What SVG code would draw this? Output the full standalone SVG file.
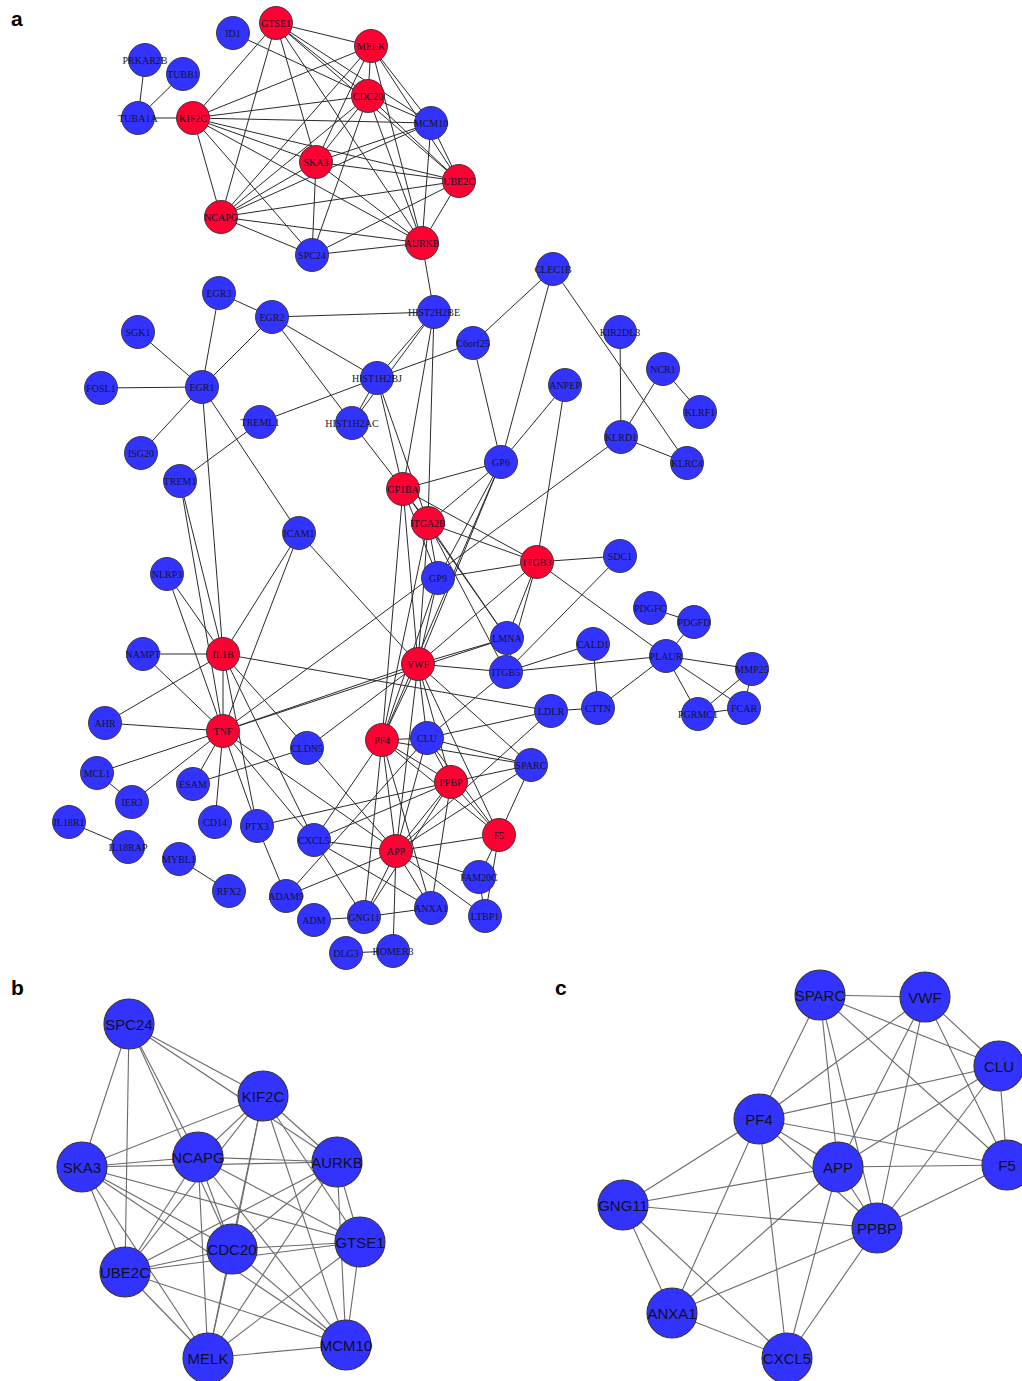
<svg xmlns="http://www.w3.org/2000/svg" width="1022" height="1381" viewBox="0 0 1022 1381">
<style>
.ea line{stroke:#2a2a2a;stroke-width:1}
.eb line{stroke:#6a6a6a;stroke-width:1.1}
.na circle{stroke:#333;stroke-width:0.9}
.nb circle{stroke:#333;stroke-width:1.1;fill:#3333ff}
.R circle{fill:#ff0033}
.B circle{fill:#3333ff}
.na text{font-family:"Liberation Serif",serif;font-size:10px;fill:#141428;text-anchor:middle}
.nb text{font-family:"Liberation Sans",Arial,sans-serif;font-size:15px;fill:#101020;text-anchor:middle}
.pl{font-family:"Liberation Sans",Arial,sans-serif;font-size:21px;font-weight:bold;fill:#000}
</style>
<rect width="1022" height="1381" fill="#fff"/>
<text class="pl" x="11" y="26">a</text>
<text class="pl" x="11" y="995">b</text>
<text class="pl" x="555" y="995">c</text>

<g id="edges-a" class="ea">
<line x1="276" y1="23" x2="371" y2="46"/><line x1="276" y1="23" x2="193" y2="118"/><line x1="276" y1="23" x2="221" y2="217"/><line x1="276" y1="23" x2="316" y2="162"/><line x1="276" y1="23" x2="368" y2="96"/><line x1="276" y1="23" x2="459" y2="181"/><line x1="276" y1="23" x2="422" y2="243"/><line x1="276" y1="23" x2="431" y2="123"/>
<line x1="371" y1="46" x2="193" y2="118"/><line x1="371" y1="46" x2="368" y2="96"/><line x1="371" y1="46" x2="431" y2="123"/><line x1="371" y1="46" x2="459" y2="181"/><line x1="371" y1="46" x2="316" y2="162"/><line x1="371" y1="46" x2="221" y2="217"/><line x1="371" y1="46" x2="422" y2="243"/>
<line x1="368" y1="96" x2="193" y2="118"/><line x1="368" y1="96" x2="221" y2="217"/><line x1="368" y1="96" x2="316" y2="162"/><line x1="368" y1="96" x2="312" y2="255"/><line x1="368" y1="96" x2="422" y2="243"/><line x1="368" y1="96" x2="459" y2="181"/><line x1="368" y1="96" x2="431" y2="123"/>
<line x1="193" y1="118" x2="431" y2="123"/><line x1="193" y1="118" x2="316" y2="162"/><line x1="193" y1="118" x2="459" y2="181"/><line x1="193" y1="118" x2="422" y2="243"/><line x1="193" y1="118" x2="221" y2="217"/><line x1="193" y1="118" x2="312" y2="255"/>
<line x1="316" y1="162" x2="221" y2="217"/><line x1="316" y1="162" x2="459" y2="181"/><line x1="316" y1="162" x2="422" y2="243"/><line x1="316" y1="162" x2="312" y2="255"/><line x1="316" y1="162" x2="431" y2="123"/>
<line x1="221" y1="217" x2="459" y2="181"/><line x1="221" y1="217" x2="422" y2="243"/><line x1="221" y1="217" x2="312" y2="255"/><line x1="221" y1="217" x2="431" y2="123"/>
<line x1="431" y1="123" x2="459" y2="181"/><line x1="431" y1="123" x2="422" y2="243"/><line x1="459" y1="181" x2="422" y2="243"/><line x1="459" y1="181" x2="312" y2="255"/><line x1="422" y1="243" x2="312" y2="255"/>
<line x1="145" y1="60" x2="138" y2="118"/><line x1="183" y1="74" x2="138" y2="118"/><line x1="138" y1="118" x2="193" y2="118"/><line x1="233" y1="33" x2="368" y2="96"/><line x1="422" y1="243" x2="434" y2="312"/>
<line x1="219" y1="293" x2="272" y2="317"/><line x1="219" y1="293" x2="202" y2="387"/><line x1="272" y1="317" x2="202" y2="387"/><line x1="272" y1="317" x2="434" y2="312"/><line x1="272" y1="317" x2="377" y2="378"/><line x1="272" y1="317" x2="352" y2="423"/>
<line x1="138" y1="332" x2="202" y2="387"/><line x1="101" y1="388" x2="202" y2="387"/><line x1="141" y1="453" x2="202" y2="387"/><line x1="202" y1="387" x2="299" y2="533"/><line x1="202" y1="387" x2="223" y2="654"/>
<line x1="180" y1="481" x2="260" y2="422"/><line x1="260" y1="422" x2="377" y2="378"/><line x1="180" y1="481" x2="223" y2="654"/><line x1="180" y1="481" x2="223" y2="731"/>
<line x1="434" y1="312" x2="377" y2="378"/><line x1="434" y1="312" x2="352" y2="423"/><line x1="377" y1="378" x2="352" y2="423"/><line x1="434" y1="312" x2="403" y2="489"/><line x1="434" y1="312" x2="428" y2="523"/><line x1="377" y1="378" x2="403" y2="489"/><line x1="377" y1="378" x2="428" y2="523"/><line x1="352" y1="423" x2="403" y2="489"/><line x1="473" y1="343" x2="377" y2="378"/>
<line x1="553" y1="269" x2="473" y2="343"/><line x1="553" y1="269" x2="501" y2="462"/><line x1="553" y1="269" x2="687" y2="463"/><line x1="473" y1="343" x2="501" y2="462"/><line x1="565" y1="385" x2="501" y2="462"/><line x1="565" y1="385" x2="537" y2="562"/>
<line x1="620" y1="332" x2="621" y2="437"/><line x1="663" y1="369" x2="621" y2="437"/><line x1="663" y1="369" x2="700" y2="412"/><line x1="621" y1="437" x2="687" y2="463"/><line x1="621" y1="437" x2="223" y2="731"/>
<line x1="501" y1="462" x2="403" y2="489"/><line x1="501" y1="462" x2="428" y2="523"/><line x1="501" y1="462" x2="438" y2="578"/><line x1="501" y1="462" x2="418" y2="664"/><line x1="501" y1="462" x2="382" y2="740"/>
<line x1="403" y1="489" x2="428" y2="523"/><line x1="403" y1="489" x2="537" y2="562"/><line x1="403" y1="489" x2="418" y2="664"/><line x1="403" y1="489" x2="438" y2="578"/><line x1="403" y1="489" x2="382" y2="740"/><line x1="403" y1="489" x2="507" y2="638"/>
<line x1="428" y1="523" x2="537" y2="562"/><line x1="428" y1="523" x2="438" y2="578"/><line x1="428" y1="523" x2="418" y2="664"/><line x1="428" y1="523" x2="507" y2="638"/><line x1="428" y1="523" x2="506" y2="672"/><line x1="428" y1="523" x2="382" y2="740"/>
<line x1="537" y1="562" x2="620" y2="556"/><line x1="537" y1="562" x2="438" y2="578"/><line x1="537" y1="562" x2="507" y2="638"/><line x1="537" y1="562" x2="506" y2="672"/><line x1="537" y1="562" x2="666" y2="656"/><line x1="537" y1="562" x2="418" y2="664"/>
<line x1="438" y1="578" x2="418" y2="664"/><line x1="438" y1="578" x2="382" y2="740"/>
<line x1="418" y1="664" x2="506" y2="672"/><line x1="418" y1="664" x2="507" y2="638"/><line x1="418" y1="664" x2="299" y2="533"/><line x1="418" y1="664" x2="223" y2="731"/><line x1="223" y1="731" x2="507" y2="638"/><line x1="418" y1="664" x2="307" y2="748"/><line x1="418" y1="664" x2="531" y2="765"/><line x1="418" y1="664" x2="499" y2="835"/><line x1="418" y1="664" x2="382" y2="740"/><line x1="418" y1="664" x2="427" y2="738"/><line x1="418" y1="664" x2="451" y2="782"/><line x1="418" y1="664" x2="396" y2="851"/>
<line x1="506" y1="672" x2="620" y2="556"/><line x1="506" y1="672" x2="593" y2="644"/><line x1="506" y1="672" x2="666" y2="656"/><line x1="506" y1="672" x2="427" y2="738"/>
<line x1="593" y1="644" x2="598" y2="708"/><line x1="598" y1="708" x2="551" y2="711"/><line x1="598" y1="708" x2="666" y2="656"/><line x1="666" y1="656" x2="694" y2="622"/><line x1="650" y1="608" x2="694" y2="622"/><line x1="666" y1="656" x2="752" y2="669"/><line x1="666" y1="656" x2="698" y2="714"/><line x1="666" y1="656" x2="744" y2="708"/><line x1="698" y1="714" x2="744" y2="708"/><line x1="698" y1="714" x2="752" y2="669"/><line x1="752" y1="669" x2="744" y2="708"/>
<line x1="223" y1="654" x2="551" y2="711"/><line x1="427" y1="738" x2="551" y2="711"/><line x1="551" y1="711" x2="396" y2="851"/>
<line x1="299" y1="533" x2="223" y2="654"/><line x1="299" y1="533" x2="223" y2="731"/>
<line x1="167" y1="574" x2="223" y2="654"/><line x1="167" y1="574" x2="223" y2="731"/><line x1="143" y1="654" x2="223" y2="654"/><line x1="143" y1="654" x2="223" y2="731"/><line x1="105" y1="723" x2="223" y2="731"/><line x1="105" y1="723" x2="223" y2="654"/><line x1="223" y1="654" x2="223" y2="731"/>
<line x1="97" y1="773" x2="223" y2="731"/><line x1="97" y1="773" x2="132" y2="802"/><line x1="132" y1="802" x2="223" y2="731"/><line x1="193" y1="784" x2="223" y2="731"/><line x1="193" y1="784" x2="307" y2="748"/><line x1="215" y1="822" x2="223" y2="731"/><line x1="257" y1="826" x2="223" y2="731"/>
<line x1="223" y1="654" x2="257" y2="826"/><line x1="223" y1="654" x2="307" y2="748"/><line x1="223" y1="654" x2="314" y2="840"/><line x1="223" y1="731" x2="314" y2="840"/><line x1="223" y1="731" x2="396" y2="851"/><line x1="307" y1="748" x2="396" y2="851"/><line x1="257" y1="826" x2="451" y2="782"/><line x1="257" y1="826" x2="286" y2="896"/>
<line x1="69" y1="822" x2="128" y2="847"/><line x1="179" y1="859" x2="229" y2="891"/><line x1="314" y1="920" x2="364" y2="917"/><line x1="346" y1="953" x2="393" y2="951"/><line x1="393" y1="951" x2="396" y2="851"/>
<line x1="286" y1="896" x2="427" y2="738"/><line x1="286" y1="896" x2="396" y2="851"/>
<line x1="499" y1="835" x2="479" y2="877"/><line x1="499" y1="835" x2="485" y2="916"/><line x1="479" y1="877" x2="485" y2="916"/><line x1="479" y1="877" x2="396" y2="851"/><line x1="396" y1="851" x2="485" y2="916"/>
<line x1="531" y1="765" x2="427" y2="738"/><line x1="531" y1="765" x2="499" y2="835"/><line x1="531" y1="765" x2="382" y2="740"/><line x1="531" y1="765" x2="396" y2="851"/><line x1="531" y1="765" x2="451" y2="782"/>
<line x1="427" y1="738" x2="499" y2="835"/><line x1="427" y1="738" x2="382" y2="740"/><line x1="427" y1="738" x2="396" y2="851"/><line x1="427" y1="738" x2="451" y2="782"/>
<line x1="382" y1="740" x2="499" y2="835"/><line x1="382" y1="740" x2="396" y2="851"/><line x1="382" y1="740" x2="451" y2="782"/><line x1="382" y1="740" x2="364" y2="917"/><line x1="382" y1="740" x2="431" y2="908"/><line x1="382" y1="740" x2="314" y2="840"/>
<line x1="396" y1="851" x2="499" y2="835"/><line x1="396" y1="851" x2="451" y2="782"/><line x1="396" y1="851" x2="364" y2="917"/><line x1="396" y1="851" x2="431" y2="908"/><line x1="396" y1="851" x2="314" y2="840"/>
<line x1="499" y1="835" x2="451" y2="782"/><line x1="364" y1="917" x2="451" y2="782"/><line x1="364" y1="917" x2="431" y2="908"/><line x1="364" y1="917" x2="314" y2="840"/><line x1="451" y1="782" x2="431" y2="908"/><line x1="451" y1="782" x2="314" y2="840"/><line x1="431" y1="908" x2="314" y2="840"/>
</g>

<g id="edges-b" class="eb">
<line x1="360" y1="1242" x2="208" y2="1358"/><line x1="360" y1="1242" x2="263" y2="1096"/><line x1="360" y1="1242" x2="198" y2="1157"/><line x1="360" y1="1242" x2="82" y2="1167"/><line x1="360" y1="1242" x2="232" y2="1249"/><line x1="360" y1="1242" x2="125" y2="1272"/><line x1="360" y1="1242" x2="337" y2="1162"/><line x1="360" y1="1242" x2="346" y2="1345"/>
<line x1="208" y1="1358" x2="263" y2="1096"/><line x1="208" y1="1358" x2="232" y2="1249"/><line x1="208" y1="1358" x2="346" y2="1345"/><line x1="208" y1="1358" x2="125" y2="1272"/><line x1="208" y1="1358" x2="82" y2="1167"/><line x1="208" y1="1358" x2="198" y2="1157"/><line x1="208" y1="1358" x2="337" y2="1162"/>
<line x1="232" y1="1249" x2="263" y2="1096"/><line x1="232" y1="1249" x2="198" y2="1157"/><line x1="232" y1="1249" x2="82" y2="1167"/><line x1="232" y1="1249" x2="129" y2="1024"/><line x1="232" y1="1249" x2="337" y2="1162"/><line x1="232" y1="1249" x2="125" y2="1272"/><line x1="232" y1="1249" x2="346" y2="1345"/>
<line x1="263" y1="1096" x2="346" y2="1345"/><line x1="263" y1="1096" x2="82" y2="1167"/><line x1="263" y1="1096" x2="125" y2="1272"/><line x1="263" y1="1096" x2="337" y2="1162"/><line x1="263" y1="1096" x2="198" y2="1157"/><line x1="263" y1="1096" x2="129" y2="1024"/>
<line x1="82" y1="1167" x2="198" y2="1157"/><line x1="82" y1="1167" x2="125" y2="1272"/><line x1="82" y1="1167" x2="337" y2="1162"/><line x1="82" y1="1167" x2="129" y2="1024"/><line x1="82" y1="1167" x2="346" y2="1345"/>
<line x1="198" y1="1157" x2="125" y2="1272"/><line x1="198" y1="1157" x2="337" y2="1162"/><line x1="198" y1="1157" x2="129" y2="1024"/><line x1="198" y1="1157" x2="346" y2="1345"/>
<line x1="346" y1="1345" x2="125" y2="1272"/><line x1="346" y1="1345" x2="337" y2="1162"/><line x1="125" y1="1272" x2="337" y2="1162"/><line x1="125" y1="1272" x2="129" y2="1024"/><line x1="337" y1="1162" x2="129" y2="1024"/>
</g>

<g id="edges-c" class="eb">
<line x1="820" y1="995" x2="925" y2="997"/><line x1="820" y1="995" x2="999" y2="1066"/><line x1="820" y1="995" x2="1007" y2="1165"/><line x1="820" y1="995" x2="759" y2="1119"/><line x1="820" y1="995" x2="838" y2="1167"/><line x1="820" y1="995" x2="877" y2="1228"/>
<line x1="925" y1="997" x2="999" y2="1066"/><line x1="925" y1="997" x2="1007" y2="1165"/><line x1="925" y1="997" x2="759" y2="1119"/><line x1="925" y1="997" x2="838" y2="1167"/><line x1="925" y1="997" x2="877" y2="1228"/>
<line x1="999" y1="1066" x2="1007" y2="1165"/><line x1="999" y1="1066" x2="759" y2="1119"/><line x1="999" y1="1066" x2="838" y2="1167"/><line x1="999" y1="1066" x2="877" y2="1228"/>
<line x1="759" y1="1119" x2="1007" y2="1165"/><line x1="759" y1="1119" x2="838" y2="1167"/><line x1="759" y1="1119" x2="877" y2="1228"/><line x1="759" y1="1119" x2="623" y2="1205"/><line x1="759" y1="1119" x2="672" y2="1313"/><line x1="759" y1="1119" x2="787" y2="1358"/>
<line x1="838" y1="1167" x2="1007" y2="1165"/><line x1="838" y1="1167" x2="877" y2="1228"/><line x1="838" y1="1167" x2="623" y2="1205"/><line x1="838" y1="1167" x2="672" y2="1313"/><line x1="838" y1="1167" x2="787" y2="1358"/>
<line x1="1007" y1="1165" x2="877" y2="1228"/><line x1="623" y1="1205" x2="877" y2="1228"/><line x1="623" y1="1205" x2="672" y2="1313"/><line x1="623" y1="1205" x2="787" y2="1358"/><line x1="877" y1="1228" x2="672" y2="1313"/><line x1="877" y1="1228" x2="787" y2="1358"/><line x1="672" y1="1313" x2="787" y2="1358"/>
</g>

<g id="nodes-a" class="na">
<g id="a-GTSE1" class="R"><circle cx="276" cy="23" r="16.5"/><text x="276" y="26.5">GTSE1</text></g>
<g id="a-ID1" class="B"><circle cx="233" cy="33" r="16.5"/><text x="233" y="36.5">ID1</text></g>
<g id="a-MELK" class="R"><circle cx="371" cy="46" r="16.5"/><text x="371" y="49.5">MELK</text></g>
<g id="a-PRKAR2B" class="B"><circle cx="145" cy="60" r="16.5"/><text x="145" y="63.5">PRKAR2B</text></g>
<g id="a-TUBB1" class="B"><circle cx="183" cy="74" r="16.5"/><text x="183" y="77.5">TUBB1</text></g>
<g id="a-TUBA1A" class="B"><circle cx="138" cy="118" r="16.5"/><text x="138" y="121.5">TUBA1A</text></g>
<g id="a-KIF2C" class="R"><circle cx="193" cy="118" r="16.5"/><text x="193" y="121.5">KIF2C</text></g>
<g id="a-CDC20" class="R"><circle cx="368" cy="96" r="16.5"/><text x="368" y="99.5">CDC20</text></g>
<g id="a-MCM10" class="B"><circle cx="431" cy="123" r="16.5"/><text x="431" y="126.5">MCM10</text></g>
<g id="a-SKA3" class="R"><circle cx="316" cy="162" r="16.5"/><text x="316" y="165.5">SKA3</text></g>
<g id="a-UBE2C" class="R"><circle cx="459" cy="181" r="16.5"/><text x="459" y="184.5">UBE2C</text></g>
<g id="a-NCAPG" class="R"><circle cx="221" cy="217" r="16.5"/><text x="221" y="220.5">NCAPG</text></g>
<g id="a-SPC24" class="B"><circle cx="312" cy="255" r="16.5"/><text x="312" y="258.5">SPC24</text></g>
<g id="a-AURKB" class="R"><circle cx="422" cy="243" r="16.5"/><text x="422" y="246.5">AURKB</text></g>
<g id="a-EGR3" class="B"><circle cx="219" cy="293" r="16.5"/><text x="219" y="296.5">EGR3</text></g>
<g id="a-EGR2" class="B"><circle cx="272" cy="317" r="16.5"/><text x="272" y="320.5">EGR2</text></g>
<g id="a-HIST2H2BE" class="B"><circle cx="434" cy="312" r="16.5"/><text x="434" y="315.5">HIST2H2BE</text></g>
<g id="a-SGK1" class="B"><circle cx="138" cy="332" r="16.5"/><text x="138" y="335.5">SGK1</text></g>
<g id="a-EGR1" class="B"><circle cx="202" cy="387" r="16.5"/><text x="202" y="390.5">EGR1</text></g>
<g id="a-FOSL1" class="B"><circle cx="101" cy="388" r="16.5"/><text x="101" y="391.5">FOSL1</text></g>
<g id="a-HIST1H2BJ" class="B"><circle cx="377" cy="378" r="16.5"/><text x="377" y="381.5">HIST1H2BJ</text></g>
<g id="a-C6orf25" class="B"><circle cx="473" cy="343" r="16.5"/><text x="473" y="346.5">C6orf25</text></g>
<g id="a-TREML1" class="B"><circle cx="260" cy="422" r="16.5"/><text x="260" y="425.5">TREML1</text></g>
<g id="a-HIST1H2AC" class="B"><circle cx="352" cy="423" r="16.5"/><text x="352" y="426.5">HIST1H2AC</text></g>
<g id="a-ISG20" class="B"><circle cx="141" cy="453" r="16.5"/><text x="141" y="456.5">ISG20</text></g>
<g id="a-TREM1" class="B"><circle cx="180" cy="481" r="16.5"/><text x="180" y="484.5">TREM1</text></g>
<g id="a-GP1BA" class="R"><circle cx="403" cy="489" r="16.5"/><text x="403" y="492.5">GP1BA</text></g>
<g id="a-ITGA2B" class="R"><circle cx="428" cy="523" r="16.5"/><text x="428" y="526.5">ITGA2B</text></g>
<g id="a-ICAM1" class="B"><circle cx="299" cy="533" r="16.5"/><text x="299" y="536.5">ICAM1</text></g>
<g id="a-CLEC1B" class="B"><circle cx="553" cy="269" r="16.5"/><text x="553" y="272.5">CLEC1B</text></g>
<g id="a-KIR2DL3" class="B"><circle cx="620" cy="332" r="16.5"/><text x="620" y="335.5">KIR2DL3</text></g>
<g id="a-NCR1" class="B"><circle cx="663" cy="369" r="16.5"/><text x="663" y="372.5">NCR1</text></g>
<g id="a-ANPEP" class="B"><circle cx="565" cy="385" r="16.5"/><text x="565" y="388.5">ANPEP</text></g>
<g id="a-KLRF1" class="B"><circle cx="700" cy="412" r="16.5"/><text x="700" y="415.5">KLRF1</text></g>
<g id="a-KLRD1" class="B"><circle cx="621" cy="437" r="16.5"/><text x="621" y="440.5">KLRD1</text></g>
<g id="a-GP6" class="B"><circle cx="501" cy="462" r="16.5"/><text x="501" y="465.5">GP6</text></g>
<g id="a-KLRC4" class="B"><circle cx="687" cy="463" r="16.5"/><text x="687" y="466.5">KLRC4</text></g>
<g id="a-ITGB3" class="R"><circle cx="537" cy="562" r="16.5"/><text x="537" y="565.5">ITGB3</text></g>
<g id="a-SDC1" class="B"><circle cx="620" cy="556" r="16.5"/><text x="620" y="559.5">SDC1</text></g>
<g id="a-GP9" class="B"><circle cx="438" cy="578" r="16.5"/><text x="438" y="581.5">GP9</text></g>
<g id="a-PDGFC" class="B"><circle cx="650" cy="608" r="16.5"/><text x="650" y="611.5">PDGFC</text></g>
<g id="a-PDGFD" class="B"><circle cx="694" cy="622" r="16.5"/><text x="694" y="625.5">PDGFD</text></g>
<g id="a-LMNA" class="B"><circle cx="507" cy="638" r="16.5"/><text x="507" y="641.5">LMNA</text></g>
<g id="a-CALD1" class="B"><circle cx="593" cy="644" r="16.5"/><text x="593" y="647.5">CALD1</text></g>
<g id="a-PLAUR" class="B"><circle cx="666" cy="656" r="16.5"/><text x="666" y="659.5">PLAUR</text></g>
<g id="a-VWF" class="R"><circle cx="418" cy="664" r="16.5"/><text x="418" y="667.5">VWF</text></g>
<g id="a-ITGB5" class="B"><circle cx="506" cy="672" r="16.5"/><text x="506" y="675.5">ITGB5</text></g>
<g id="a-MMP25" class="B"><circle cx="752" cy="669" r="16.5"/><text x="752" y="672.5">MMP25</text></g>
<g id="a-LDLR" class="B"><circle cx="551" cy="711" r="16.5"/><text x="551" y="714.5">LDLR</text></g>
<g id="a-CTTN" class="B"><circle cx="598" cy="708" r="16.5"/><text x="598" y="711.5">CTTN</text></g>
<g id="a-FCAR" class="B"><circle cx="744" cy="708" r="16.5"/><text x="744" y="711.5">FCAR</text></g>
<g id="a-PGRMC1" class="B"><circle cx="698" cy="714" r="16.5"/><text x="698" y="717.5">PGRMC1</text></g>
<g id="a-PF4" class="R"><circle cx="382" cy="740" r="16.5"/><text x="382" y="743.5">PF4</text></g>
<g id="a-CLU" class="B"><circle cx="427" cy="738" r="16.5"/><text x="427" y="741.5">CLU</text></g>
<g id="a-SPARC" class="B"><circle cx="531" cy="765" r="16.5"/><text x="531" y="768.5">SPARC</text></g>
<g id="a-PPBP" class="R"><circle cx="451" cy="782" r="16.5"/><text x="451" y="785.5">PPBP</text></g>
<g id="a-NLRP3" class="B"><circle cx="167" cy="574" r="16.5"/><text x="167" y="577.5">NLRP3</text></g>
<g id="a-NAMPT" class="B"><circle cx="143" cy="654" r="16.5"/><text x="143" y="657.5">NAMPT</text></g>
<g id="a-IL1B" class="R"><circle cx="223" cy="654" r="16.5"/><text x="223" y="657.5">IL1B</text></g>
<g id="a-AHR" class="B"><circle cx="105" cy="723" r="16.5"/><text x="105" y="726.5">AHR</text></g>
<g id="a-TNF" class="R"><circle cx="223" cy="731" r="16.5"/><text x="223" y="734.5">TNF</text></g>
<g id="a-CLDN5" class="B"><circle cx="307" cy="748" r="16.5"/><text x="307" y="751.5">CLDN5</text></g>
<g id="a-MCL1" class="B"><circle cx="97" cy="773" r="16.5"/><text x="97" y="776.5">MCL1</text></g>
<g id="a-ESAM" class="B"><circle cx="193" cy="784" r="16.5"/><text x="193" y="787.5">ESAM</text></g>
<g id="a-IER3" class="B"><circle cx="132" cy="802" r="16.5"/><text x="132" y="805.5">IER3</text></g>
<g id="a-IL18R1" class="B"><circle cx="69" cy="822" r="16.5"/><text x="69" y="825.5">IL18R1</text></g>
<g id="a-CD14" class="B"><circle cx="215" cy="822" r="16.5"/><text x="215" y="825.5">CD14</text></g>
<g id="a-PTX3" class="B"><circle cx="257" cy="826" r="16.5"/><text x="257" y="829.5">PTX3</text></g>
<g id="a-CXCL5" class="B"><circle cx="314" cy="840" r="16.5"/><text x="314" y="843.5">CXCL5</text></g>
<g id="a-APP" class="R"><circle cx="396" cy="851" r="16.5"/><text x="396" y="854.5">APP</text></g>
<g id="a-F5" class="R"><circle cx="499" cy="835" r="16.5"/><text x="499" y="838.5">F5</text></g>
<g id="a-IL18RAP" class="B"><circle cx="128" cy="847" r="16.5"/><text x="128" y="850.5">IL18RAP</text></g>
<g id="a-MYBL1" class="B"><circle cx="179" cy="859" r="16.5"/><text x="179" y="862.5">MYBL1</text></g>
<g id="a-FAM20C" class="B"><circle cx="479" cy="877" r="16.5"/><text x="479" y="880.5">FAM20C</text></g>
<g id="a-RFX2" class="B"><circle cx="229" cy="891" r="16.5"/><text x="229" y="894.5">RFX2</text></g>
<g id="a-ADAM9" class="B"><circle cx="286" cy="896" r="16.5"/><text x="286" y="899.5">ADAM9</text></g>
<g id="a-ANXA1" class="B"><circle cx="431" cy="908" r="16.5"/><text x="431" y="911.5">ANXA1</text></g>
<g id="a-LTBP1" class="B"><circle cx="485" cy="916" r="16.5"/><text x="485" y="919.5">LTBP1</text></g>
<g id="a-ADM" class="B"><circle cx="314" cy="920" r="16.5"/><text x="314" y="923.5">ADM</text></g>
<g id="a-GNG11" class="B"><circle cx="364" cy="917" r="16.5"/><text x="364" y="920.5">GNG11</text></g>
<g id="a-DLG3" class="B"><circle cx="346" cy="953" r="16.5"/><text x="346" y="956.5">DLG3</text></g>
<g id="a-HOMER3" class="B"><circle cx="393" cy="951" r="16.5"/><text x="393" y="954.5">HOMER3</text></g>
</g>

<g id="nodes-b" class="nb">
<g id="b-SPC24"><circle cx="129" cy="1024" r="25"/><text x="129" y="1029.5">SPC24</text></g>
<g id="b-KIF2C"><circle cx="263" cy="1096" r="25"/><text x="263" y="1101.5">KIF2C</text></g>
<g id="b-SKA3"><circle cx="82" cy="1167" r="25"/><text x="82" y="1172.5">SKA3</text></g>
<g id="b-NCAPG"><circle cx="198" cy="1157" r="25"/><text x="198" y="1162.5">NCAPG</text></g>
<g id="b-AURKB"><circle cx="337" cy="1162" r="25"/><text x="337" y="1167.5">AURKB</text></g>
<g id="b-GTSE1"><circle cx="360" cy="1242" r="25"/><text x="360" y="1247.5">GTSE1</text></g>
<g id="b-CDC20"><circle cx="232" cy="1249" r="25"/><text x="232" y="1254.5">CDC20</text></g>
<g id="b-UBE2C"><circle cx="125" cy="1272" r="25"/><text x="125" y="1277.5">UBE2C</text></g>
<g id="b-MELK"><circle cx="208" cy="1358" r="25"/><text x="208" y="1363.5">MELK</text></g>
<g id="b-MCM10"><circle cx="346" cy="1345" r="25"/><text x="346" y="1350.5">MCM10</text></g>
</g>

<g id="nodes-c" class="nb">
<g id="c-SPARC"><circle cx="820" cy="995" r="25"/><text x="820" y="1000.5">SPARC</text></g>
<g id="c-VWF"><circle cx="925" cy="997" r="25"/><text x="925" y="1002.5">VWF</text></g>
<g id="c-CLU"><circle cx="999" cy="1066" r="25"/><text x="999" y="1071.5">CLU</text></g>
<g id="c-PF4"><circle cx="759" cy="1119" r="25"/><text x="759" y="1124.5">PF4</text></g>
<g id="c-APP"><circle cx="838" cy="1167" r="25"/><text x="838" y="1172.5">APP</text></g>
<g id="c-F5"><circle cx="1007" cy="1165" r="25"/><text x="1007" y="1170.5">F5</text></g>
<g id="c-GNG11"><circle cx="623" cy="1205" r="25"/><text x="623" y="1210.5">GNG11</text></g>
<g id="c-PPBP"><circle cx="877" cy="1228" r="25"/><text x="877" y="1233.5">PPBP</text></g>
<g id="c-ANXA1"><circle cx="672" cy="1313" r="25"/><text x="672" y="1318.5">ANXA1</text></g>
<g id="c-CXCL5"><circle cx="787" cy="1358" r="25"/><text x="787" y="1363.5">CXCL5</text></g>
</g>
</svg>
